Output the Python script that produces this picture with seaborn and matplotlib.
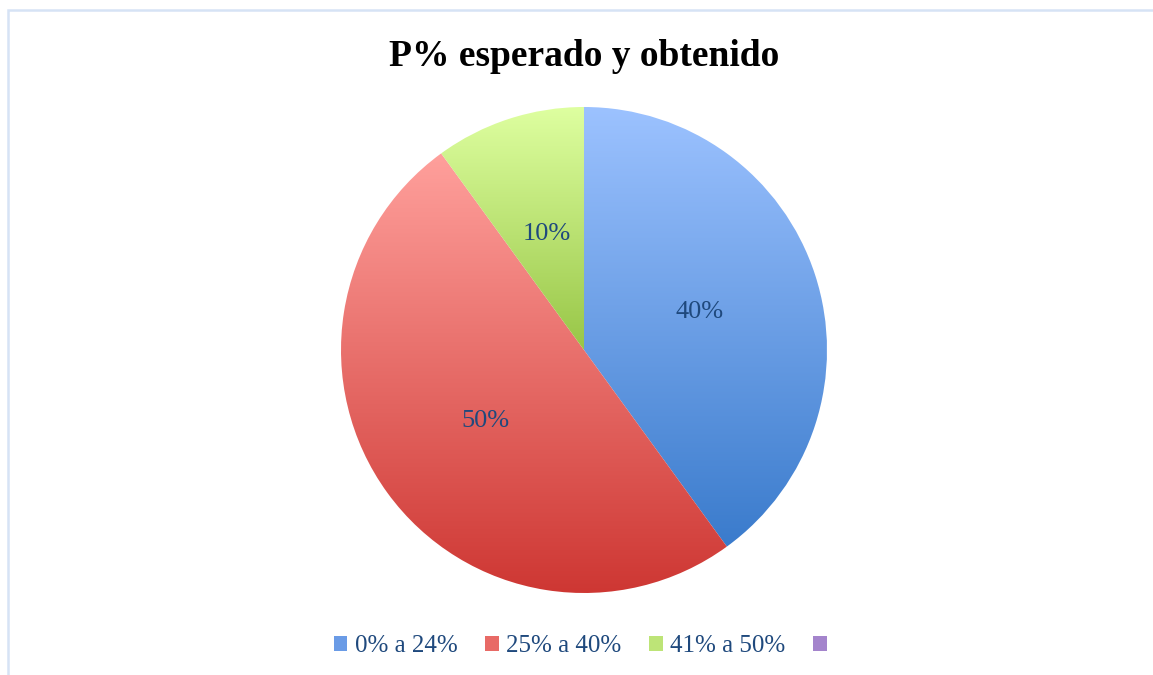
import numpy as np
import matplotlib
matplotlib.use("Agg")
import matplotlib.pyplot as plt
import seaborn as sns
from matplotlib.patches import Patch, Rectangle

# Datos del gráfico
categorias = ["0% a 24%", "25% a 40%", "41% a 50%", ""]
valores = [40, 50, 10, 0]
etiquetas = ["40%", "50%", "10%", ""]

# Colores (arriba claro, abajo oscuro) por categoría
colores_claros = ["#9CC2FF", "#FFA09C", "#DEFFA0", "#C8A8E8"]
colores_oscuros = ["#3A7BCC", "#CE3733", "#98C647", "#7E5AA8"]
colores_leyenda = ["#6A9BE6", "#E86A66", "#BDE477", "#A484CC"]

color_texto = "#1F497D"

sns.set_style("white")
plt.rcParams["font.family"] = ["Liberation Serif", "DejaVu Serif"]

fig = plt.figure(figsize=(11.53, 6.75), dpi=100)
ax = fig.add_axes([(584 - 243) / 1153, (675 - 593) / 675, 486 / 1153, 486 / 675])

# Solo las porciones con valor > 0 se dibujan
mask = [v > 0 for v in valores]
wedges, textos = ax.pie(
    [v for v, m in zip(valores, mask) if m],
    labels=[e for e, m in zip(etiquetas, mask) if m],
    labeldistance=0.5,
    startangle=90,
    counterclock=False,
    radius=1,
    textprops=dict(color=color_texto, fontsize=19, ha="center", va="center"),
)

# Relleno en degradado vertical para cada porción
for w, claro, oscuro in zip(wedges, colores_claros, colores_oscuros):
    ext = w.get_path().get_extents()
    cmap = sns.blend_palette([oscuro, claro], as_cmap=True)
    grad = np.linspace(0, 1, 256).reshape(-1, 1)
    im = ax.imshow(grad, cmap=cmap, origin="lower", aspect="auto",
                   extent=[ext.x0, ext.x1, ext.y0, ext.y1], zorder=1)
    im.set_clip_path(w)
    w.set_facecolor("none")
    w.set_edgecolor("none")

ax.set_xlim(-1, 1)
ax.set_ylim(-1, 1)
ax.set_aspect("equal")
ax.axis("off")

fig.text(584 / 1153, 1 - 56 / 675, "P% esperado y obtenido", ha="center", va="center",
         fontsize=27, fontweight="bold", family="Liberation Serif", color="black")

handles = [Patch(facecolor=c, edgecolor="none") for c in colores_leyenda]
leg = fig.legend(handles, categorias, loc="center", bbox_to_anchor=(584 / 1153, 1 - 646 / 675),
                 ncol=4, frameon=False, fontsize=18, handlelength=0.55, handleheight=0.55,
                 handletextpad=0.3, columnspacing=1.1)
for t in leg.get_texts():
    t.set_color(color_texto)

# Marco del gráfico
fig.patches.append(Rectangle((7.5 / 1153, -0.1), 1.2, 1.1 - 10.5 / 675, transform=fig.transFigure,
                             fill=False, edgecolor="#D6E3F5", linewidth=1.8))

fig.savefig("out.png", dpi=100)
